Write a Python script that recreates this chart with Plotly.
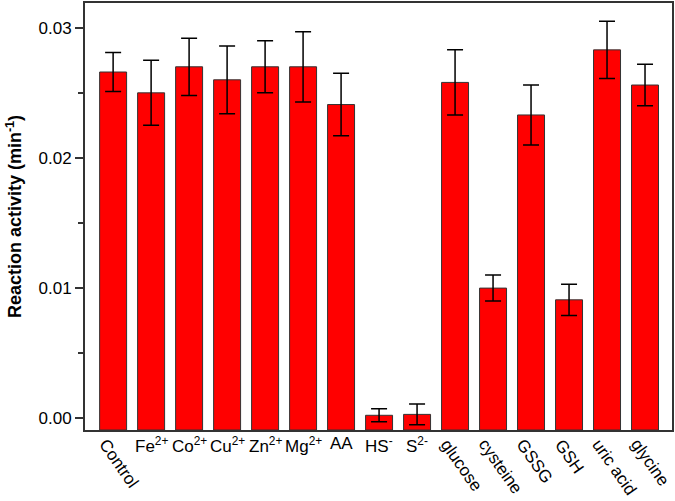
import plotly.graph_objects as go

labels = ["Control", "Fe<sup>2+</sup>", "Co<sup>2+</sup>", "Cu<sup>2+</sup>", "Zn<sup>2+</sup>",
          "Mg<sup>2+</sup>", "AA", "HS<sup>-</sup>", "S<sup>2-</sup>", "glucose", "cysteine",
          "GSSG", "GSH", "uric acid", "glycine"]
rotated = [True, False, False, False, False, False, False, False, False,
           True, True, True, True, True, True]
activity = [0.0266, 0.0250, 0.0270, 0.0260, 0.0270, 0.0270, 0.0241, 0.00023, 0.0003,
            0.0258, 0.0100, 0.0233, 0.0091, 0.0283, 0.0256]
errors = [0.0015, 0.0025, 0.0022, 0.0026, 0.0020, 0.0027, 0.0024, 0.0005, 0.0008,
          0.0025, 0.0010, 0.0023, 0.0012, 0.0022, 0.0016]
y_min, y_max = -0.0009, 0.0319

fig = go.Figure()
# bars start from the bottom of the axis, as in the original
fig.add_trace(go.Bar(
    x=labels, y=[a - y_min for a in activity], base=y_min, width=0.71,
    marker=dict(color="#ff0000", line=dict(color="#333333", width=1)),
    error_y=dict(type="data", array=errors, color="black", thickness=1.5, width=8),
))

annotations = []
for lab, rot in zip(labels, rotated):
    if rot:
        annotations.append(dict(x=lab, y=0, xref="x", yref="paper", text=lab,
                                showarrow=False, textangle=55, xanchor="left",
                                yanchor="top", xshift=-21, yshift=-3,
                                font=dict(size=17, color="black")))
    else:
        annotations.append(dict(x=lab, y=0, xref="x", yref="paper", text=lab,
                                showarrow=False, xanchor="center", yanchor="top",
                                yshift=-2, font=dict(size=17, color="black")))

fig.update_layout(
    width=675, height=501,
    margin=dict(l=85, r=3, t=1, b=71),
    plot_bgcolor="white", paper_bgcolor="white",
    font=dict(family="Liberation Sans, Arial", size=17, color="black"),
    showlegend=False,
    annotations=annotations,
    xaxis=dict(type="category", range=[-0.74, 14.71], showticklabels=False,
               ticks="", showline=True, linecolor="#333333", linewidth=2,
               mirror=True, showgrid=False),
    yaxis=dict(range=[y_min, y_max], tickvals=[0, 0.01, 0.02, 0.03],
               ticktext=["0.00", "0.01", "0.02", "0.03"], ticks="outside",
               ticklen=8, tickwidth=1.5, tickcolor="#333333",
               tickfont=dict(size=17),
               minor=dict(tickvals=[0.005, 0.015, 0.025], ticks="outside",
                          ticklen=5, tickwidth=1.5, tickcolor="#333333"),
               showline=True, linecolor="#333333", linewidth=2, mirror=True,
               showgrid=False, zeroline=False,
               title=dict(text="<b>Reaction activity (min<sup>-1</sup>)</b>",
                          font=dict(size=18), standoff=12)),
)

fig.write_html("out.html", config={"displayModeBar": False},
               post_script="document.body.style.margin='0';")
